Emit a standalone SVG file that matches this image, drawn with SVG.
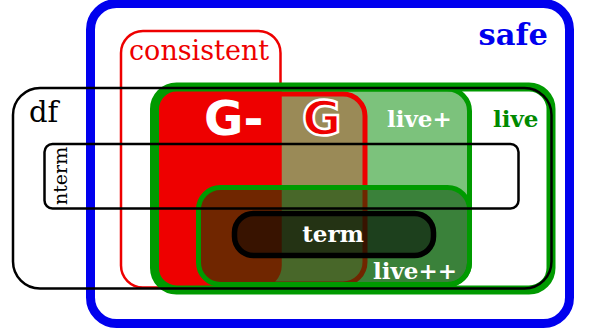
<svg xmlns="http://www.w3.org/2000/svg" width="589" height="336" viewBox="0 0 589 336">
  <style>
    .frame { fill: none; }
    .serif { font-family: "DejaVu Serif", "Liberation Serif", serif; }
    .sans { font-family: "DejaVu Sans", "Liberation Sans", sans-serif; font-weight: bold; }
    .lbl { font-family: "DejaVu Serif", "Liberation Serif", serif; font-weight: bold; font-size: 23px; }
  </style>
  <defs>
    <!-- interior of the "live" set; inner regions are cut to it -->
    <clipPath id="liveClip">
      <rect x="154.5" y="87" width="396.5" height="203" rx="22"/>
    </clipPath>
  </defs>

  <g id="safe">
    <rect class="frame" x="90.5" y="3.5" width="479" height="320" rx="26" stroke="#0000ee" stroke-width="9"/>
    <text class="serif" x="548" y="45" font-size="30.5" font-weight="bold" fill="#0000ee" text-anchor="end">safe</text>
  </g>

  <g id="consistent">
    <rect class="frame" x="121" y="31" width="159.5" height="256.5" rx="22" stroke="#ee0000" stroke-width="2.5"/>
    <text class="serif" x="129" y="59.5" font-size="27" fill="#ee0000">consistent</text>
  </g>

  <g clip-path="url(#liveClip)">
    <g id="live-plus">
      <rect x="200" y="89" width="269.5" height="196" rx="22" fill="#7cc27c" stroke="#009a00" stroke-width="5"/>
    </g>
    <g id="G">
      <rect x="170" y="94" width="195" height="190" rx="22" fill="#9a8a57" stroke="#ee0000" stroke-width="5"/>
    </g>
    <g id="G-minus">
      <rect x="121" y="31" width="159.5" height="256.5" rx="22" fill="#ee0000" stroke="#ee0000" stroke-width="2.5"/>
    </g>
    <g id="live-plus-plus">
      <rect x="198.5" y="187.5" width="271" height="97" rx="22" fill="#004800" fill-opacity="0.53" stroke="#009a00" stroke-width="5"/>
    </g>
  </g>

  <g id="term">
    <rect x="234.5" y="213.5" width="199" height="42" rx="19" fill="#000000" fill-opacity="0.5" stroke="#000000" stroke-width="5.5"/>
    <text class="lbl" x="333" y="242" fill="#ffffff" text-anchor="middle">term</text>
  </g>

  <g id="live">
    <rect class="frame" x="154.5" y="87" width="396.5" height="203" rx="22" stroke="#009a00" stroke-width="9"/>
    <text class="lbl" x="493" y="127" fill="#008a00">live</text>
  </g>

  <g id="df">
    <rect class="frame" x="13" y="88" width="538.5" height="200.5" rx="27" stroke="#000000" stroke-width="2.5"/>
    <text class="serif" x="29" y="121.5" font-size="29" fill="#000000">df</text>
  </g>

  <g id="nterm">
    <rect class="frame" x="44.5" y="144" width="474" height="64.5" rx="8" stroke="#000000" stroke-width="2.5"/>
    <text class="serif" transform="translate(67,205) rotate(-90)" font-size="19" fill="#000000">nterm</text>
  </g>

  <!-- region labels -->
  <g id="labels">
    <text class="sans" x="204" y="135" font-size="48" fill="#ffffff">G-</text>
    <text class="sans" x="302" y="135" font-size="48" fill="#ee0000" stroke="#ffffff" stroke-width="2.5">G</text>
    <text class="lbl" x="387" y="127" fill="#ffffff">live+</text>
    <text class="lbl" x="373" y="279" fill="#ffffff">live++</text>
  </g>
</svg>
